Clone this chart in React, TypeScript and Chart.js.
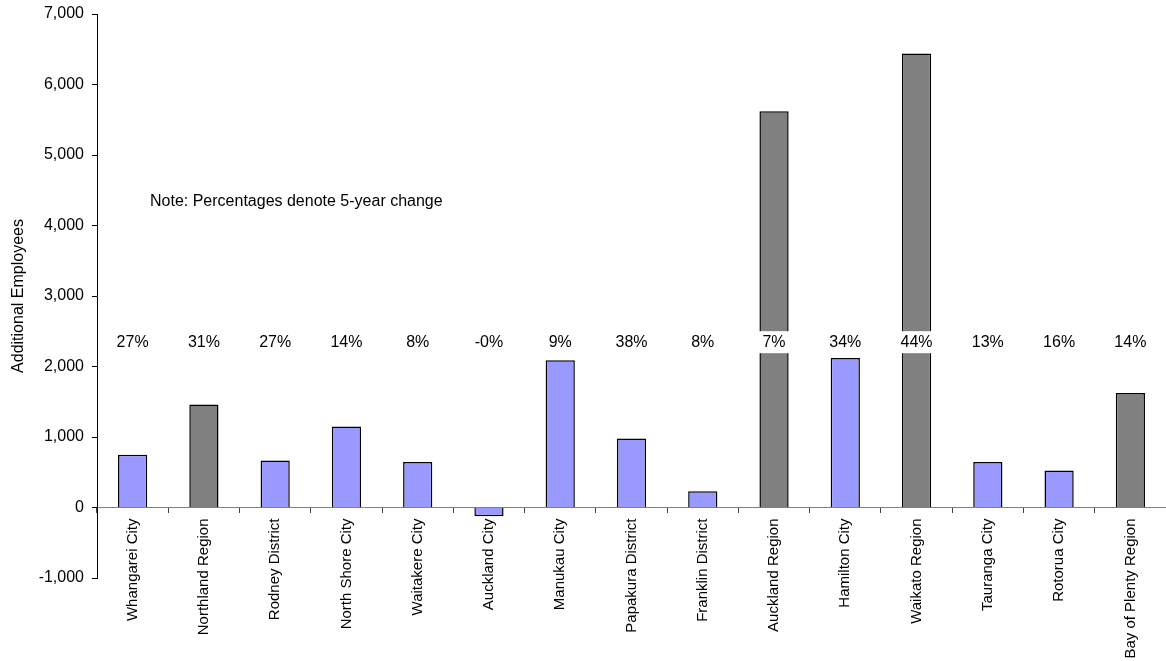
import React, { useEffect, useRef } from "react";
import { Chart, registerables } from "chart.js";

Chart.register(...registerables);

const categories = [
  "Whangarei City",
  "Northland Region",
  "Rodney District",
  "North Shore City",
  "Waitakere City",
  "Auckland City",
  "Manukau City",
  "Papakura District",
  "Franklin District",
  "Auckland Region",
  "Hamilton City",
  "Waikato Region",
  "Tauranga City",
  "Rotorua City",
  "Bay of Plenty Region",
];

const additionalEmployees = [
  750, 1460, 665, 1150, 645, -125, 2090, 980, 230, 5620, 2120, 6440, 645, 525, 1625,
];

const isRegion = [
  false, true, false, false, false, false, false, false, false, true, false, true, false, false, true,
];

const percentChange = [
  "27%", "31%", "27%", "14%", "8%", "-0%", "9%", "38%", "8%", "7%", "34%", "44%", "13%", "16%", "14%",
];

const yMin = -1000;
const yMax = 7000;
const yStep = 1000;
const percentLabelValue = 2345;
const noteText = "Note: Percentages denote 5-year change";
const noteValue = 4335;
const yTitle = "Additional Employees";

const FONT = "'Liberation Sans', Arial, Helvetica, sans-serif";
const CITY_COLOR = "#9999FF";
const REGION_COLOR = "#808080";

const annotationPlugin = {
  id: "annotations",
  afterDatasetsDraw(chart: any) {
    const { ctx, scales, chartArea } = chart;
    const x = scales.x;
    const y = scales.y;
    ctx.save();
    ctx.font = `16px ${FONT}`;
    ctx.textAlign = "center";
    ctx.textBaseline = "middle";
    const yy = y.getPixelForValue(percentLabelValue);
    percentChange.forEach((t, i) => {
      const xx = x.getPixelForValue(i);
      const w = Math.max(ctx.measureText(t).width + 8, 31);
      ctx.fillStyle = "#ffffff";
      ctx.fillRect(xx - w / 2, yy - 11, w, 22);
      ctx.fillStyle = "#000000";
      ctx.fillText(t, xx, yy);
    });
    ctx.textAlign = "left";
    ctx.fillText(noteText, chartArea.left + 53, y.getPixelForValue(noteValue));
    ctx.restore();
  },
};

export default function App() {
  const canvasRef = useRef<HTMLCanvasElement | null>(null);

  useEffect(() => {
    document.body.style.margin = "0";
    const canvas = canvasRef.current;
    if (!canvas) return;
    const font16 = { family: FONT, size: 16 };
    const font15 = { family: FONT, size: 15 };
    const chart = new Chart(canvas, {
      type: "bar",
      data: {
        labels: categories,
        datasets: [
          {
            data: additionalEmployees,
            backgroundColor: isRegion.map((r) => (r ? REGION_COLOR : CITY_COLOR)),
            borderColor: "#000000",
            borderWidth: 1.5,
            categoryPercentage: 1,
            barPercentage: 0.41,
          },
        ],
      },
      options: {
        responsive: false,
        animation: false,
        devicePixelRatio: 1,
        layout: { padding: { top: 14, bottom: 83, left: 0, right: 0 } },
        plugins: {
          legend: { display: false },
          tooltip: { enabled: false },
        },
        scales: {
          x: {
            position: { y: 0 } as any,
            grid: {
              display: true,
              drawOnChartArea: false,
              offset: true,
              tickLength: 5,
              color: "#444444",
            },
            border: { display: true, color: "#808080", width: 1 },
            ticks: {
              autoSkip: false,
              minRotation: 90,
              maxRotation: 90,
              font: font15,
              color: "#000000",
              padding: 6,
            },
            afterFit: (s: any) => {
              s.height = 0;
            },
          },
          y: {
            min: yMin,
            max: yMax,
            ticks: {
              stepSize: yStep,
              font: font16,
              color: "#000000",
              padding: 8,
              callback: (v: any) => Number(v).toLocaleString("en-US"),
            },
            grid: {
              display: true,
              drawOnChartArea: false,
              tickLength: 5,
              color: "#000000",
            },
            border: { display: true, color: "#000000", width: 1 },
            title: {
              display: true,
              text: yTitle,
              font: font16,
              color: "#000000",
              padding: { top: 9, bottom: 0 },
            },
            afterFit: (s: any) => {
              s.width = 97;
              s.paddingTop = 4;
              s.paddingBottom = 4;
            },
          },
        },
      },
      plugins: [annotationPlugin],
    });
    return () => chart.destroy();
  }, []);

  return (
    <div style={{ position: "absolute", left: 0, top: 0, width: 1166, height: 661 }}>
      <canvas ref={canvasRef} width={1166} height={661} />
    </div>
  );
}
